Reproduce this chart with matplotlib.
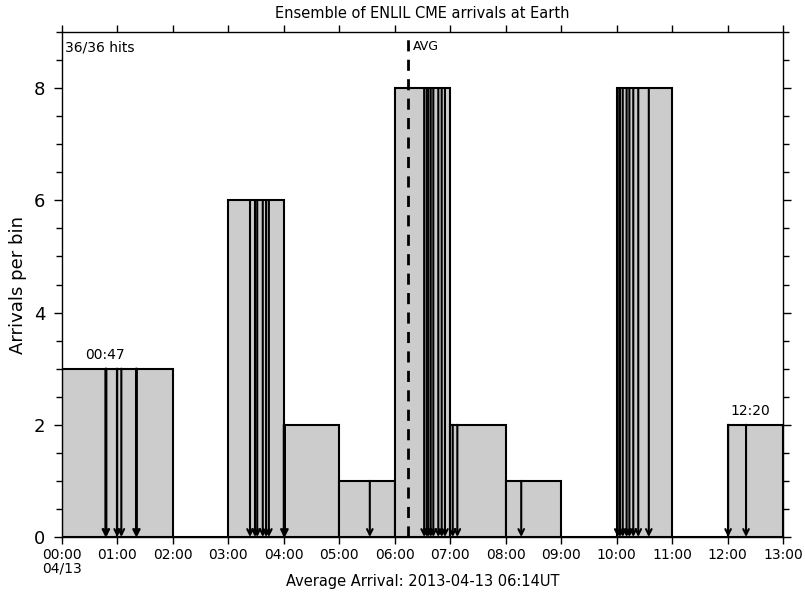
#!/usr/bin/env python
# -*- coding: utf-8 -*-

"""
ENLIL ensemble CME arrival histogram
"""

import matplotlib
matplotlib.use('Agg')
import matplotlib.pyplot as plt
import numpy as np

# hourly bins, 2013-04-13 00:00 .. 13:00
bin_edges = list(range(0, 14))
bin_counts = [3, 3, 0, 6, 2, 1, 8, 2, 1, 0, 8, 0, 2]

# individual member arrival times (hours after 00:00)
arrival_times = [
    0.783, 0.800, 0.995,
    1.07, 1.335, 1.35,
    3.39, 3.48, 3.52, 3.62, 3.68, 3.73,
    4.0, 4.02,
    5.55,
    6.53, 6.576, 6.605, 6.648, 6.695, 6.785, 6.846, 6.905,
    7.045, 7.128,
    8.28,
    10.02, 10.06, 10.11, 10.18, 10.23, 10.30, 10.39, 10.58,
    12.01, 12.333,
]

avg_arrival = 6 + 14 / 60.0
first_label = '00:47'
last_label = '12:20'
tick_labels = ['%02d:00' % h for h in bin_edges]
tick_labels[0] = '00:00\n04/13'

title = 'Ensemble of ENLIL CME arrivals at Earth'
x_title = 'Average Arrival: 2013-04-13 06:14UT'
y_title = 'Arrivals per bin'
hits_text = '%d/%d hits' % (len(arrival_times), len(arrival_times))

plt.rcParams['font.family'] = ['DejaVu Sans']

fig = plt.figure(figsize=(8.05, 5.92), dpi=100)
ax = fig.add_axes([0.077, 0.0929, 0.8957, 0.853])

# 柱状
lefts = np.array(bin_edges[:-1])
ax.bar(lefts, bin_counts, width=1.0, align='edge', color='#cccccc',
       edgecolor='black', linewidth=1.5, zorder=2)

# 每个成员的到达箭头
counts = np.array(bin_counts)
for t in arrival_times:
    h = counts[min(int(np.floor(t)), len(counts) - 1)]
    ax.annotate('', xy=(t, 0), xytext=(t, h),
                arrowprops=dict(arrowstyle='->', color='black', lw=1.5,
                                mutation_scale=10, shrinkA=0, shrinkB=0),
                zorder=3)

# 平均到达时间
ax.axvline(avg_arrival, color='black', linestyle=(0, (4, 3)), linewidth=2, zorder=4)
ax.text(avg_arrival + 0.1, 8.85, 'AVG', fontsize=9, ha='left', va='top')

ax.text(0.06, 8.85, hits_text, fontsize=10, ha='left', va='top')

# 首末到达标签
t0 = min(arrival_times)
t1 = max(arrival_times)
ax.text(t0, counts[int(t0)] + 0.12, first_label, fontsize=10, ha='center', va='bottom')
ax.text(t1 + 0.08, counts[int(t1)] + 0.12, last_label, fontsize=10, ha='center', va='bottom')

ax.set_xlim(0, 13)
ax.set_ylim(0, 9)
ax.set_xticks(bin_edges)
ax.set_xticklabels(tick_labels, fontsize=10, linespacing=0.95)

ax.set_yticks([0, 2, 4, 6, 8])
ax.set_yticks(np.arange(0, 9.01, 0.5), minor=True)
ax.tick_params(axis='y', labelsize=13, direction='out', length=6, width=1,
               left=True, right=True, pad=6)
ax.tick_params(axis='y', which='minor', direction='out', length=4, width=1,
               left=True, right=True)
ax.tick_params(axis='x', direction='out', length=5, width=1, top=True,
               bottom=True, pad=3)
for s in ax.spines.values():
    s.set_linewidth(1)

ax.set_title(title, fontsize=10.5, pad=10)
ax.set_xlabel(x_title, fontsize=10.5, labelpad=-1)
ax.set_ylabel(y_title, fontsize=13, labelpad=5)

plt.savefig('out.png', dpi=100)
